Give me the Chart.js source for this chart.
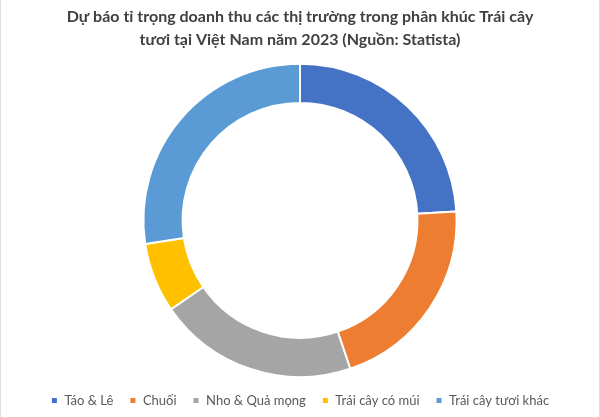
<!DOCTYPE html>
<html>
<head>
<meta charset="utf-8">
<script src="https://cdn.jsdelivr.net/npm/chart.js@4/dist/chart.umd.min.js"></script>
<style>
  html, body { margin: 0; padding: 0; background: #fff; }
  #wrap { width: 600px; height: 417px; position: relative; box-sizing: border-box; border-left: 1px solid #e0e0e0; border-right: 1px solid #e0e0e0; }
</style>
</head>
<body>
<div id="wrap"><canvas id="donutChart"></canvas></div>
<script>
'use strict';

// share of fresh fruit revenue, %
const labels = [
  "Táo & Lê",
  "Chuối",
  "Nho & Quả mọng",
  "Trái cây có múi",
  "Trái cây tươi khác"
];
const shares = [24.1, 20.7, 20.6, 7.2, 27.4];
const colors = ["#4472C4", "#ED7D31", "#A5A5A5", "#FFC000", "#5B9BD5"];

const ctx = document.getElementById('donutChart');

let donutChart = new Chart(ctx, {
  type: 'doughnut',
  data: {
    labels: labels,
    datasets: [
      {
        data: shares,
        backgroundColor: colors,
        borderColor: '#ffffff',
        borderWidth: 2
      }]
  },
  options: {
    responsive: true,
    maintainAspectRatio: false,
    animation: false,
    cutout: '75%',
    layout: {
      padding: { top: 0, bottom: 0 }
    },
    plugins: {
      title: {
        display: true,
        text: [
          'Dự báo tỉ trọng doanh thu các thị trường trong phân khúc Trái cây',
          'tươi tại Việt Nam năm 2023 (Nguồn: Statista)'
        ],
        color: '#404040',
        font: { family: 'Lato', size: 16, weight: 'bold', lineHeight: 1.4 },
        padding: { top: 6, bottom: 12 }
      },
      legend: {
        position: 'bottom',
        labels: {
          boxWidth: 7,
          boxHeight: 7,
          padding: 16,
          color: '#595959',
          font: { family: 'Lato', size: 13 }
        }
      },
      tooltip: { enabled: false }
    }
  }
});
</script>
</body>
</html>
